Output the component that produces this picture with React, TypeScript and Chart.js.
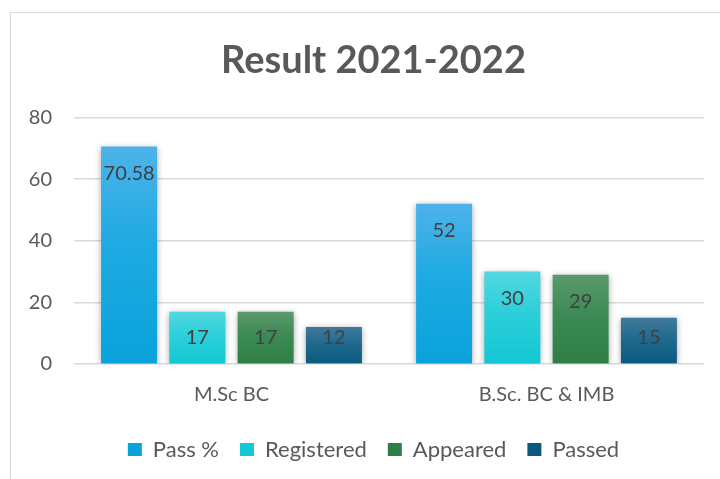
import React, { useEffect, useRef } from "react";
import { Chart, registerables } from "chart.js";

Chart.register(...registerables);

const categories = ["M.Sc BC", "B.Sc. BC & IMB"];
const seriesNames = ["Pass %", "Registered", "Appeared", "Passed"];
const passPct = [70.58, 52];
const registered = [17, 30];
const appeared = [17, 29];
const passed = [12, 15];
const yTicks = [0, 20, 40, 60, 80];

const gradientStops: [string, string, string][] = [
  ["#4db3e9", "#0aa2dc", "#1eaae2"],
  ["#52d7df", "#12c8d4", "#2ccfd9"],
  ["#5b9a6c", "#2e7e45", "#3c8a55"],
  ["#41799a", "#0a5a80", "#1f6a8e"],
];

const FONT = "Lato, 'Open Sans', sans-serif";

export default function App() {
  const ref = useRef<HTMLCanvasElement | null>(null);

  useEffect(() => {
    if (!ref.current) return;
    const values = [passPct, registered, appeared, passed];

    const makeBg = (i: number) => (ctx: any) => {
      const [top, bottom, mid] = gradientStops[i];
      if (ctx.type !== "data") return mid;
      const chart = ctx.chart;
      const ys = chart.scales && chart.scales.y;
      if (!ys || !chart.chartArea) return mid;
      const yTop = ys.getPixelForValue(ctx.raw);
      const yBot = ys.getPixelForValue(0);
      if (!isFinite(yTop) || !isFinite(yBot) || yTop === yBot) return mid;
      const g = chart.ctx.createLinearGradient(0, yTop, 0, yBot);
      g.addColorStop(0, top);
      g.addColorStop(0.45, mid);
      g.addColorStop(1, bottom);
      return g;
    };

    const shadowAndLabels = {
      id: "shadowAndLabels",
      beforeDatasetsDraw(chart: any) {
        const c = chart.ctx;
        c.save();
        c.shadowColor = "rgba(0,0,0,0.35)";
        c.shadowBlur = 6;
        c.shadowOffsetX = 0;
        c.shadowOffsetY = 1;
      },
      afterDatasetsDraw(chart: any) {
        const c = chart.ctx;
        c.restore();
        c.save();
        c.font = `20px ${FONT}`;
        c.fillStyle = "#404040";
        c.textAlign = "center";
        c.textBaseline = "middle";
        chart.data.datasets.forEach((ds: any, di: number) => {
          const meta = chart.getDatasetMeta(di);
          meta.data.forEach((bar: any, idx: number) => {
            const v = ds.data[idx];
            const y = Math.min(bar.y + 27, bar.base - 26);
            c.fillText(String(v), bar.x, y);
          });
        });
        c.restore();
      },
    };

    const chart = new Chart(ref.current, {
      type: "bar",
      data: {
        labels: categories,
        datasets: seriesNames.map((name, i) => ({
          label: name,
          data: values[i],
          backgroundColor: makeBg(i),
          borderWidth: 0,
          categoryPercentage: 0.867,
          barPercentage: 0.82,
          yAxisID: "y",
        })),
      },
      options: {
        animation: false,
        responsive: false,
        maintainAspectRatio: false,
        layout: { padding: { left: 0, right: 15, top: 0, bottom: 8.5 } },
        plugins: {
          title: {
            display: true,
            text: "Result 2021-2022",
            color: "#595959",
            font: { family: FONT, size: 38, weight: "bold" },
            padding: { top: 25, bottom: 34 },
          },
          legend: {
            position: "bottom",
            labels: {
              color: "#595959",
              font: { family: FONT, size: 22 },
              boxWidth: 14,
              boxHeight: 13,
              padding: 21,
            },
          },
          tooltip: { enabled: false },
        },
        scales: {
          x: {
            grid: { display: false, drawTicks: false },
            border: { display: false },
            ticks: {
              color: "#595959",
              font: { family: FONT, size: 20 },
              padding: 19,
            },
            afterFit(scale: any) {
              scale.height = 53.5;
            },
          },
          y: {
            position: "left",
            min: 0,
            max: 80,
            afterBuildTicks(scale: any) {
              scale.ticks = yTicks.map((v) => ({ value: v }));
            },
            grid: { color: "#d9d9d9", lineWidth: 1.5, drawTicks: false },
            border: { display: false },
            ticks: {
              color: "#595959",
              font: { family: FONT, size: 20 },
              padding: 22,
            },
            afterFit(scale: any) {
              scale.width = 63;
            },
          },
          yRight: {
            position: "right",
            min: 0,
            max: 80,
            grid: { display: false, drawTicks: false },
            border: { display: false },
            ticks: { display: false },
            afterFit(scale: any) {
              scale.width = 32;
            },
          },
        },
      },
      plugins: [shadowAndLabels],
    });
    return () => chart.destroy();
  }, []);

  return (
    <div
      style={{
        position: "fixed",
        left: 0,
        top: 0,
        width: 720,
        height: 479,
        overflow: "hidden",
        background: "#fff",
      }}
    >
      <div
        style={{
          position: "absolute",
          left: 10,
          top: 12,
          width: 740,
          height: 467,
          borderLeft: "1px solid #d9d9d9",
          borderTop: "1px solid #d9d9d9",
        }}
      >
        <canvas ref={ref} width={740} height={466} style={{ display: "block" }} />
      </div>
    </div>
  );
}
